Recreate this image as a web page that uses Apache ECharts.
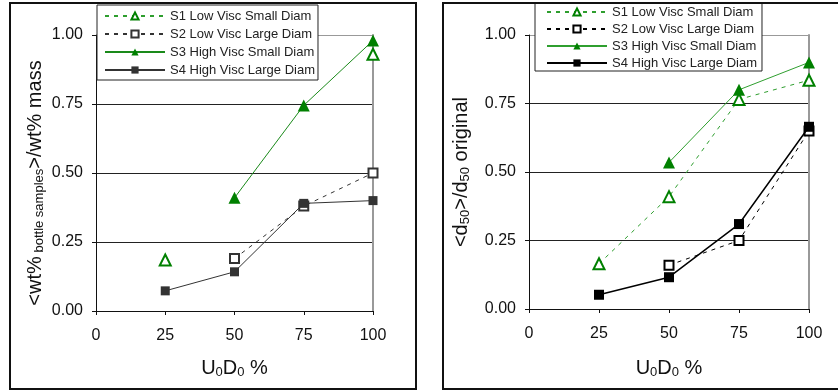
<!DOCTYPE html>
<html>
<head>
<meta charset="utf-8">
<script src="https://cdn.jsdelivr.net/npm/echarts@6/dist/echarts.min.js"></script>
<style>
  html, body { margin: 0; padding: 0; background: #fff; }
  #chart { width: 838px; height: 390px; }
</style>
</head>
<body>
<div id="chart"></div>
<script>
// Flow fraction U0D0 (%) on the x axis
const xValues = [25, 50, 75, 100];
const xTicks = [0, 25, 50, 75, 100];
const yTicks = [0, 0.25, 0.5, 0.75, 1.0];

const seriesNames = [
  'S1 Low Visc Small Diam',
  'S2 Low Visc Large Diam',
  'S3 High Visc Small Diam',
  'S4 High Visc Large Diam'
];

// Left: <wt% bottle samples>/wt% mass  (null = not measured)
const massS1 = [0.185, null, null, 0.93];
const massS2 = [null, 0.19, 0.38, 0.50];
const massS3 = [null, 0.41, 0.745, 0.98];
const massS4 = [0.073, 0.142, 0.39, 0.40];

// Right: <d50>/d50 original
const d50S1 = [0.165, 0.41, 0.765, 0.835];
const d50S2 = [null, 0.16, 0.25, 0.65];
const d50S3 = [null, 0.535, 0.80, 0.90];
const d50S4 = [0.052, 0.116, 0.31, 0.665];

const FONT = "'Liberation Sans', Arial, sans-serif";
const GREEN = '#008000';
const DASH = [4, 5];

function pairs(values) {
  return xValues.map((x, i) => [x, values[i] === null ? '-' : values[i]]);
}

const titleRich = {
  m: { fontSize: 20, lineHeight: 22, fontFamily: FONT, color: '#111' },
  s: { fontSize: 13, lineHeight: 13, fontFamily: FONT, color: '#111', verticalAlign: 'bottom' }
};

function xAxisFor(gridIndex, gap) {
  return {
    type: 'value', gridIndex,
    min: xTicks[0], max: xTicks[xTicks.length - 1], interval: xTicks[1] - xTicks[0],
    name: '{m|U}{s|0}{m|D}{s|0}{m| %}',
    nameLocation: 'middle', nameGap: gap,
    nameTextStyle: { rich: titleRich },
    axisLine: { lineStyle: { color: '#111', width: 1 } },
    axisTick: { show: true, length: 4, lineStyle: { color: '#111' } },
    axisLabel: { margin: 17, fontSize: 16, fontFamily: FONT, color: '#111' },
    splitLine: { show: false }
  };
}

function yAxisFor(gridIndex, name, gap, namePadding) {
  return {
    type: 'value', gridIndex,
    min: yTicks[0], max: yTicks[yTicks.length - 1], interval: yTicks[1] - yTicks[0],
    name, nameLocation: 'middle', nameGap: gap,
    nameTextStyle: { rich: titleRich, padding: namePadding },
    axisLine: { show: true, lineStyle: { color: '#111', width: 1 } },
    axisTick: { show: true, length: 4, lineStyle: { color: '#111' } },
    axisLabel: { margin: 13, fontSize: 16, fontFamily: FONT, color: '#111',
      formatter: v => v.toFixed(2) },
    splitLine: { show: true, lineStyle: {
      color: ['#222', '#222', '#222', '#222', '#999'], width: [1] } }
  };
}

function rightBorderAxis(gridIndex) {
  return {
    type: 'value', gridIndex, position: 'right',
    min: yTicks[0], max: yTicks[yTicks.length - 1],
    axisLine: { show: true, lineStyle: { color: '#999', width: 2 } },
    axisTick: { show: false }, axisLabel: { show: false }, splitLine: { show: false }
  };
}

function makeSeries(values, idx, xi, yi, opts) {
  return Object.assign({
    type: 'line', name: seriesNames[idx],
    xAxisIndex: xi, yAxisIndex: yi,
    data: pairs(values), connectNulls: false,
    showAllSymbol: true, animation: false, z: 3 + idx
  }, opts);
}

const styles = {
  s1: { symbol: 'emptyTriangle', symbolSize: 11,
        itemStyle: { color: GREEN, borderColor: GREEN, borderWidth: 1.5 },
        lineStyle: { color: '#2e9e2e', width: 1, type: DASH } },
  s2: { symbol: 'emptyRect', symbolSize: 9,
        itemStyle: { color: '#333', borderColor: '#333', borderWidth: 1.5 },
        lineStyle: { color: '#333', width: 1, type: DASH } },
  s3: { symbol: 'triangle', symbolSize: 12,
        itemStyle: { color: GREEN },
        lineStyle: { color: '#1a8a1a', width: 1 } },
  s4: { symbol: 'rect', symbolSize: 9,
        itemStyle: { color: '#333' },
        lineStyle: { color: '#333', width: 1 } }
};

const s4Right = { symbol: 'rect', symbolSize: 10,
  itemStyle: { color: '#000' }, lineStyle: { color: '#000', width: 1.5 } };
const s2Right = { symbol: 'emptyRect', symbolSize: 9,
  itemStyle: { color: '#000', borderColor: '#000', borderWidth: 1.5 },
  lineStyle: { color: '#000', width: 1, type: DASH } };
const s3Right = { symbol: 'triangle', symbolSize: 12,
  itemStyle: { color: GREEN }, lineStyle: { color: '#2f9f2f', width: 1 } };

function legendFor(left, top, padding, gap, dark) {
  const c = dark ? '#000' : '#333';
  return {
    left, top, orient: 'vertical', padding, itemGap: gap,
    itemWidth: 60, itemHeight: 9,
    backgroundColor: '#fff', borderColor: '#222', borderWidth: 1,
    selectedMode: false, z: 10,
    textStyle: { fontSize: 13, lineHeight: 14, fontFamily: FONT, color: '#222' },
    data: [
      { name: seriesNames[0] },
      { name: seriesNames[1], itemStyle: { color: c, borderColor: c }, lineStyle: { color: c } },
      { name: seriesNames[2], lineStyle: { color: dark ? '#2f9f2f' : '#1a8a1a' } },
      { name: seriesNames[3], itemStyle: { color: c }, lineStyle: { color: c } }
    ]
  };
}

const chart = echarts.init(document.getElementById('chart'), null, { renderer: 'canvas' });
chart.setOption({
  backgroundColor: '#fff',
  animation: false,
  textStyle: { fontFamily: FONT },
  grid: [
    { left: 96, top: 35, width: 277, height: 276 },
    { left: 529, top: 35, width: 280, height: 274 }
  ],
  xAxis: [xAxisFor(0, 46), xAxisFor(1, 48)],
  yAxis: [
    yAxisFor(0, '{m|<wt%}{s| bottle samples}{m|>/wt% mass}', 50, [0, 20, 0, 0]),
    rightBorderAxis(0),
    yAxisFor(1, '{m|<d}{s|50}{m|>/d}{s|50}{m| original}', 57, 0),
    rightBorderAxis(1)
  ],
  legend: [
    legendFor(97, 5, [4, 3, 3, 7], 4, false),
    legendFor(535, 3, [2, 5, 1, 11], 3, true)
  ],
  graphic: [
    { type: 'rect', shape: { x: 10, y: 3, width: 406, height: 386 },
      style: { fill: 'none', stroke: '#111', lineWidth: 2 }, z: 100 },
    { type: 'rect', shape: { x: 443, y: 3, width: 400, height: 386 },
      style: { fill: 'none', stroke: '#111', lineWidth: 2 }, z: 100 }
  ],
  series: [
    makeSeries(massS1, 0, 0, 0, styles.s1),
    makeSeries(massS2, 1, 0, 0, styles.s2),
    makeSeries(massS3, 2, 0, 0, styles.s3),
    makeSeries(massS4, 3, 0, 0, styles.s4),
    makeSeries(d50S1, 0, 1, 2, styles.s1),
    makeSeries(d50S2, 1, 1, 2, s2Right),
    makeSeries(d50S3, 2, 1, 2, s3Right),
    makeSeries(d50S4, 3, 1, 2, s4Right)
  ]
});
</script>
</body>
</html>
